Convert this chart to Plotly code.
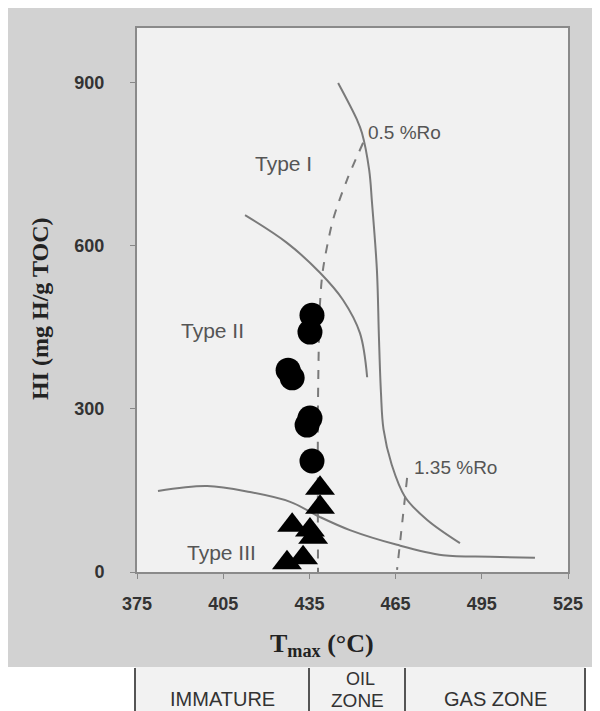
import plotly.graph_objects as go

# Kerogen type boundary curves (Tmax, HI)
type1_t = [445.0, 451.6, 453.3, 455.8, 456.8, 458.5, 459.2, 459.9, 460.8, 463.6, 468.3, 475.9, 487.4]
type1_hi = [899, 831, 807, 739, 678, 555, 432, 330, 262, 198, 138, 96, 53]
type2_t = [412.6, 427.2, 438.7, 446.7, 452.6, 455.1]
type2_hi = [656, 605, 550, 500, 439, 358]
type3_t = [382.3, 399.4, 414.3, 428.3, 438.7, 449.1, 465.5, 481.5, 497.9, 513.5]
type3_hi = [149, 158, 147, 129, 101, 77, 50, 31, 28, 26]
ro05_t = [453.7, 448.1, 443.2, 439.7, 438.7, 438.0, 438.0]
ro05_hi = [789, 721, 647, 555, 494, 316, 0]
ro135_t = [469.0, 467.5, 465.5]
ro135_hi = [173, 100, 4]

# Samples
circ_t = [435.9, 435.2, 427.6, 429.0, 435.2, 434.2, 435.9]
circ_hi = [472, 441, 371, 357, 283, 270, 204]
tri_t = [438.7, 438.7, 429.0, 435.2, 436.3, 432.8, 427.2]
tri_hi = [154, 119, 86, 77, 64, 26, 17]

x_ticks = [375, 405, 435, 465, 495, 525]
y_ticks = [0, 300, 600, 900]
zones = ["IMMATURE", "OIL", "ZONE", "GAS ZONE"]

LINE = "#7a7a7a"
fig = go.Figure()
for xs, ys in [(type1_t, type1_hi), (type2_t, type2_hi), (type3_t, type3_hi)]:
    fig.add_trace(go.Scatter(x=xs, y=ys, mode="lines",
                             line=dict(color=LINE, width=2, shape="spline", smoothing=1.0),
                             hoverinfo="skip", showlegend=False))
for xs, ys in [(ro05_t, ro05_hi), (ro135_t, ro135_hi)]:
    fig.add_trace(go.Scatter(x=xs, y=ys, mode="lines",
                             line=dict(color=LINE, width=2, dash="dash", shape="spline", smoothing=0.8),
                             hoverinfo="skip", showlegend=False))
fig.add_trace(go.Scatter(x=circ_t, y=circ_hi, mode="markers",
                         marker=dict(symbol="circle", size=25, color="black"), showlegend=False))
fig.add_trace(go.Scatter(x=tri_t, y=tri_hi, mode="markers",
                         marker=dict(symbol="triangle-up", size=26, color="black"), showlegend=False))

# The page puts the figure at an 8px offset; reference pixel coords are converted accordingly
OFF = 8
W, H = 600 - OFF, 711 - OFF
L, R, T, B = 137 - OFF, 568 - OFF, 28 - OFF, 572 - OFF
def px(x): return (x - OFF - L) / (R - L)
def py(y): return (B - (y - OFF)) / (B - T)

shapes = [
    dict(type="rect", xref="paper", yref="paper", x0=px(0), x1=px(610), y0=py(667), y1=py(720),
         fillcolor="white", line=dict(width=0), layer="below"),
    dict(type="rect", xref="paper", yref="paper", x0=px(135), x1=px(585), y0=py(667), y1=py(720),
         fillcolor="#f2f2f2", line=dict(width=0), layer="below"),
]
for xv in [135, 309, 405, 585]:
    shapes.append(dict(type="line", xref="paper", yref="paper", x0=px(xv), x1=px(xv), y0=py(668), y1=py(712),
                       line=dict(color="#555555", width=2)))

ann = []
def txt(t, x, y, size=16, color="#555555", **kw):
    ann.append(dict(text=t, xref="paper", yref="paper", x=px(x), y=py(y), showarrow=False,
                    font=dict(family="Arial, Liberation Sans", size=size, color=color),
                    xanchor=kw.pop("xanchor", "center"), yanchor="middle", **kw))
txt("Type I", 283, 163, 21)
txt("0.5 %Ro", 366, 132, 19, xanchor="left")
txt("Type II", 212, 330, 21)
txt("1.35 %Ro", 412, 467, 19, xanchor="left")
txt("Type III", 221, 552, 21)
txt(zones[0], 222, 699, 20, "#333333")
txt(zones[1], 360, 679, 18, "#333333")
txt(zones[2], 357, 700, 19, "#333333")
txt(zones[3], 495, 699, 20, "#333333")
ann.append(dict(text="<b>T<sub>max</sub> (°C)</b>", xref="paper", yref="paper", x=px(322), y=py(645),
                showarrow=False, font=dict(family="Liberation Serif, Times New Roman", size=26, color="#222222"),
                xanchor="center", yanchor="middle"))
ann.append(dict(text="<b>HI (mg H/g TOC)</b>", xref="paper", yref="paper", x=px(40), y=py(309),
                showarrow=False, textangle=-90,
                font=dict(family="Liberation Serif, Times New Roman", size=24, color="#222222"),
                xanchor="center", yanchor="middle"))

fig.update_layout(
    width=W, height=H,
    margin=dict(l=L, r=W - R, t=T, b=H - B),
    paper_bgcolor="#d2d2d2", plot_bgcolor="#f1f1f1",
    shapes=shapes, annotations=ann,
    font=dict(family="Arial, Liberation Sans", size=15, color="#333333"),
)
fig.update_xaxes(range=[375, 525], tickvals=x_ticks, ticks="outside", ticklen=5, tickcolor="#888888",
                 showgrid=False, zeroline=False, showline=True, linecolor="#8a8a8a", linewidth=2, mirror=True,
                 tickfont=dict(family="Arial, Liberation Sans", size=18, color="#333333", weight="bold"),
                 ticklabelstandoff=9)
fig.update_yaxes(range=[0, 1000], tickvals=y_ticks, ticks="outside", ticklen=5, tickcolor="#888888",
                 showgrid=False, zeroline=False, showline=True, linecolor="#8a8a8a", linewidth=2, mirror=True,
                 tickfont=dict(family="Arial, Liberation Sans", size=18, color="#333333", weight="bold"),
                 ticklabelstandoff=22)
fig.write_html("out.html")
